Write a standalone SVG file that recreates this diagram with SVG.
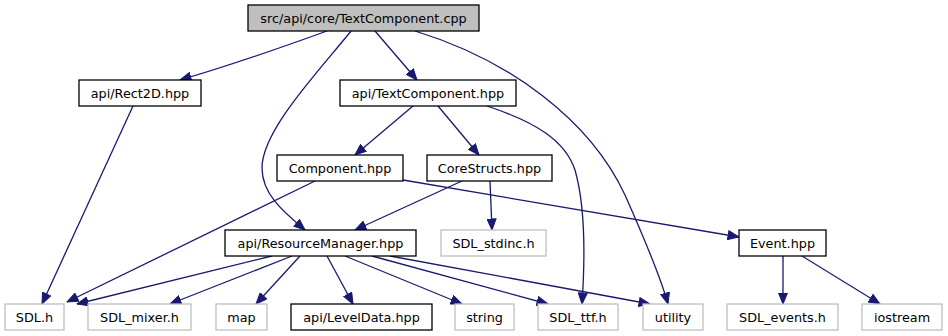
<svg xmlns="http://www.w3.org/2000/svg" width="948" height="336" viewBox="0 0 948 336">
  <style>
    .node rect { fill: #ffffff; stroke: #000000; stroke-width: 1.3; }
    .node.ext rect { stroke: #bfbfbf; }
    .node.root rect { fill: #bfbfbf; }
    .node text { font-family: "DejaVu Sans", sans-serif; font-size: 12.8px; fill: #000000; text-anchor: middle; }
    .edges path { fill: none; stroke: #191970; stroke-width: 1.3; marker-end: url(#arrow); }
  </style>
  <defs>
    <marker id="arrow" markerUnits="userSpaceOnUse" viewBox="0 0 12 10" refX="11.5" refY="5" markerWidth="12" markerHeight="10" orient="auto">
      <path d="M0.5,0.5 L11.5,5 L0.5,9.5 z" fill="#191970" stroke="#191970" stroke-width="1"/>
    </marker>
  </defs>
  <rect width="948" height="336" fill="#ffffff"/>

  <g class="edges">
    <path d="M327,31 C280,48 225,67 180,80"/>
    <path d="M375,31 L417,80"/>
    <path d="M351,31 C320,70 262,130 262,168 C262,195 285,213 305,230"/>
    <path d="M415,31 C510,60 590,120 625,195 C645,240 660,275 668,304"/>
    <path d="M133,106 L42,304"/>
    <path d="M413,106 L355,155"/>
    <path d="M438,106 L479,155"/>
    <path d="M487,106 C535,122 565,140 575,170 C585,205 585,260 582,304"/>
    <path d="M315,181 L67,302"/>
    <path d="M403,180 L739,237"/>
    <path d="M462,181 L355,230"/>
    <path d="M490,181 L492,230"/>
    <path d="M272,256 L77,304"/>
    <path d="M292,256 L170,304"/>
    <path d="M300,256 L256,304"/>
    <path d="M327,256 L353,304"/>
    <path d="M345,256 L462,304"/>
    <path d="M372,256 L548,304"/>
    <path d="M390,256 L650,304"/>
    <path d="M783,256 L783,304"/>
    <path d="M802,256 L880,304"/>
  </g>

  <g id="node-root" class="node root"><rect x="248" y="5" width="231" height="26"/><text x="363.5" y="22.5">src/api/core/TextComponent.cpp</text></g>
  <g id="node-rect2d" class="node"><rect x="79" y="80" width="122" height="26"/><text x="140" y="97.5">api/Rect2D.hpp</text></g>
  <g id="node-textcomponent" class="node"><rect x="340" y="80" width="176" height="26"/><text x="428" y="97.5">api/TextComponent.hpp</text></g>
  <g id="node-component" class="node"><rect x="277" y="155" width="126" height="26"/><text x="340" y="172.5">Component.hpp</text></g>
  <g id="node-corestructs" class="node"><rect x="427" y="155" width="125" height="26"/><text x="489.5" y="172.5">CoreStructs.hpp</text></g>
  <g id="node-resourcemanager" class="node"><rect x="225" y="230" width="191" height="26"/><text x="320.5" y="247.5">api/ResourceManager.hpp</text></g>
  <g id="node-sdl-stdinc" class="node ext"><rect x="441" y="230" width="105" height="26"/><text x="493.5" y="247.5">SDL_stdinc.h</text></g>
  <g id="node-event" class="node"><rect x="739" y="230" width="87" height="26"/><text x="782.5" y="247.5">Event.hpp</text></g>
  <g id="node-sdl" class="node ext"><rect x="5" y="304" width="59" height="26"/><text x="34.5" y="321.5">SDL.h</text></g>
  <g id="node-sdl-mixer" class="node ext"><rect x="88" y="304" width="103" height="26"/><text x="139.5" y="321.5">SDL_mixer.h</text></g>
  <g id="node-map" class="node ext"><rect x="216" y="304" width="51" height="26"/><text x="241.5" y="321.5">map</text></g>
  <g id="node-leveldata" class="node"><rect x="291" y="304" width="141" height="26"/><text x="361.5" y="321.5">api/LevelData.hpp</text></g>
  <g id="node-string" class="node ext"><rect x="455" y="304" width="59" height="26"/><text x="484.5" y="321.5">string</text></g>
  <g id="node-sdl-ttf" class="node ext"><rect x="538" y="304" width="80" height="26"/><text x="578" y="321.5">SDL_ttf.h</text></g>
  <g id="node-utility" class="node ext"><rect x="643" y="304" width="60" height="26"/><text x="673" y="321.5">utility</text></g>
  <g id="node-sdl-events" class="node ext"><rect x="727" y="304" width="111" height="26"/><text x="782.5" y="321.5">SDL_events.h</text></g>
  <g id="node-iostream" class="node ext"><rect x="862" y="304" width="80" height="26"/><text x="902" y="321.5">iostream</text></g>
</svg>
